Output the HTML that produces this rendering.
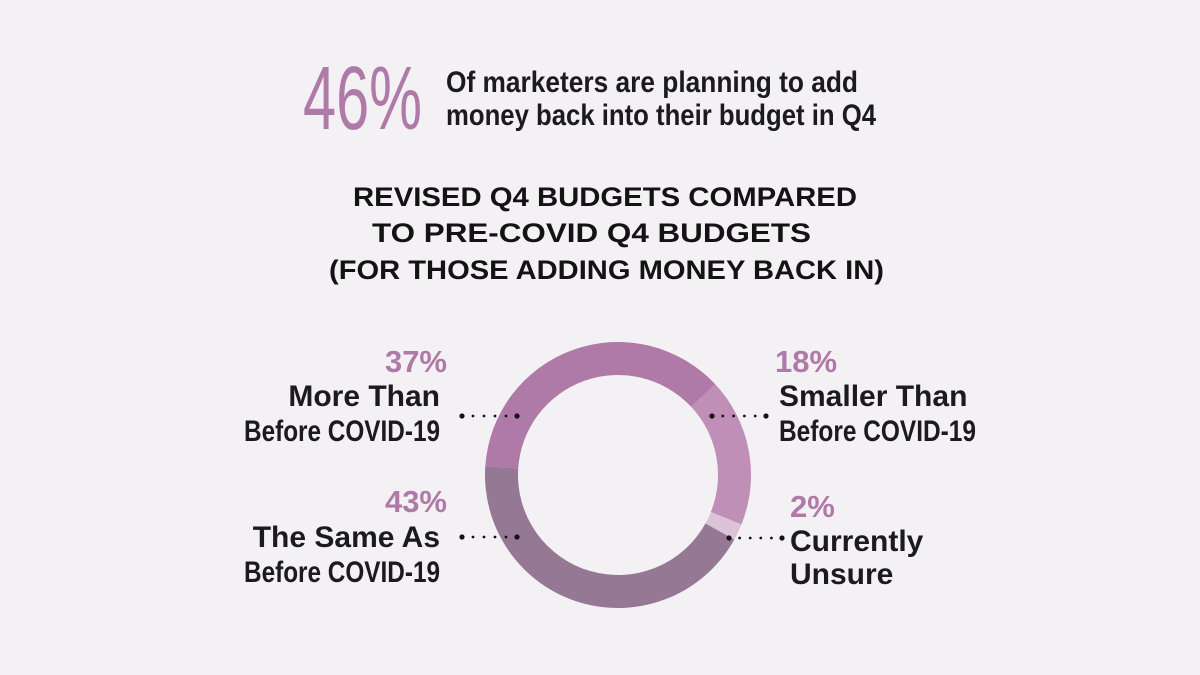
<!DOCTYPE html>
<html><head><meta charset="utf-8">
<style>
html,body{margin:0;padding:0;background:#f3f1f3;}
svg{display:block;}
text{font-family:"Liberation Sans Narrow","Liberation Sans",sans-serif;}
.b{fill:#1b1a1c;font-weight:bold;font-size:30px;}
.p{fill:#b07aa8;font-weight:bold;font-size:31px;}
.t{fill:#141314;font-family:"Liberation Sans",sans-serif;font-weight:900;font-size:27px;}
</style></head>
<body>
<svg id="chart" width="1200" height="675" viewBox="0 0 1200 675">
<rect width="1200" height="675" fill="#f3f1f3"/>
<text x="303" y="129" font-size="90" fill="#b07aa8" textLength="119" lengthAdjust="spacingAndGlyphs">46%</text>
<text class="b" x="446" y="92" font-size="33" textLength="412" lengthAdjust="spacingAndGlyphs">Of marketers are planning to add</text>
<text class="b" x="446" y="125" font-size="33" textLength="430" lengthAdjust="spacingAndGlyphs">money back into their budget in Q4</text>
<text class="t" x="353" y="206" textLength="504" lengthAdjust="spacingAndGlyphs">REVISED Q4 BUDGETS COMPARED</text>
<text class="t" x="372" y="242" textLength="439" lengthAdjust="spacingAndGlyphs">TO PRE-COVID Q4 BUDGETS</text>
<text class="t" x="329" y="279" textLength="555" lengthAdjust="spacingAndGlyphs">(FOR THOSE ADDING MONEY BACK IN)</text>
<g id="slices"></g>
<g id="labels">
<text class="p" x="447" y="372" text-anchor="end">37%</text>
<text class="b" x="440" y="406" text-anchor="end">More Than</text>
<text class="b" x="440" y="441" text-anchor="end" textLength="196" lengthAdjust="spacingAndGlyphs">Before COVID-19</text>
<text class="p" x="447" y="512" text-anchor="end">43%</text>
<text class="b" x="440" y="547" text-anchor="end">The Same As</text>
<text class="b" x="440" y="582" text-anchor="end" textLength="196" lengthAdjust="spacingAndGlyphs">Before COVID-19</text>
<text class="p" x="775" y="372">18%</text>
<text class="b" x="779" y="406">Smaller Than</text>
<text class="b" x="779" y="441" textLength="197" lengthAdjust="spacingAndGlyphs">Before COVID-19</text>
<text class="p" x="790" y="517">2%</text>
<text class="b" x="790" y="551">Currently</text>
<text class="b" x="790" y="584">Unsure</text>
</g>
<g id="leaders"></g>
</svg>
<script>
const categories = ["Smaller Than", "Currently Unsure", "The Same As", "More Than"];
const values = [18, 2, 43, 37];
const colors = ["#c08fb8", "#dcc3d8", "#957893", "#b07aa8"];
const NS = "http://www.w3.org/2000/svg";
const cx = 618, cy = 475, R = 133, r = 100, startDeg = 47;
const total = values.reduce((a, b) => a + b, 0);
function pt(deg, rad) { const a = (deg - 90) * Math.PI / 180; return [cx + rad * Math.cos(a), cy + rad * Math.sin(a)]; }
const g = document.getElementById('slices');
let acc = startDeg;
values.forEach((v, i) => {
  const sweep = v / total * 360, a0 = acc, a1 = acc + sweep; acc = a1;
  const large = sweep > 180 ? 1 : 0;
  const p0 = pt(a0, R), p1 = pt(a1, R), q1 = pt(a1, r), q0 = pt(a0, r);
  const d = `M${p0[0]},${p0[1]} A${R},${R} 0 ${large} 1 ${p1[0]},${p1[1]} L${q1[0]},${q1[1]} A${r},${r} 0 ${large} 0 ${q0[0]},${q0[1]} Z`;
  const p = document.createElementNS(NS, 'path');
  p.setAttribute('d', d); p.setAttribute('fill', colors[i]);
  
  
  g.appendChild(p);
});
const leaderSpecs = [[462, 517, 416], [462, 517, 537], [712, 766, 416], [729, 782, 538]];
const lg = document.getElementById('leaders');
leaderSpecs.forEach((s, i) => {
  const grp = document.createElementNS(NS, 'g');
  
  
  const n = 6;
  for (let k = 0; k < n; k++) {
    const x = s[0] + (s[1] - s[0]) * k / (n - 1);
    const c = document.createElementNS(NS, 'circle');
    c.setAttribute('cx', x); c.setAttribute('cy', s[2]);
    c.setAttribute('r', (k === 0 || k === n - 1) ? 2.6 : 1.4);
    c.setAttribute('fill', '#141314');
    grp.appendChild(c);
  }
  lg.appendChild(grp);
});
</script>
</body></html>
